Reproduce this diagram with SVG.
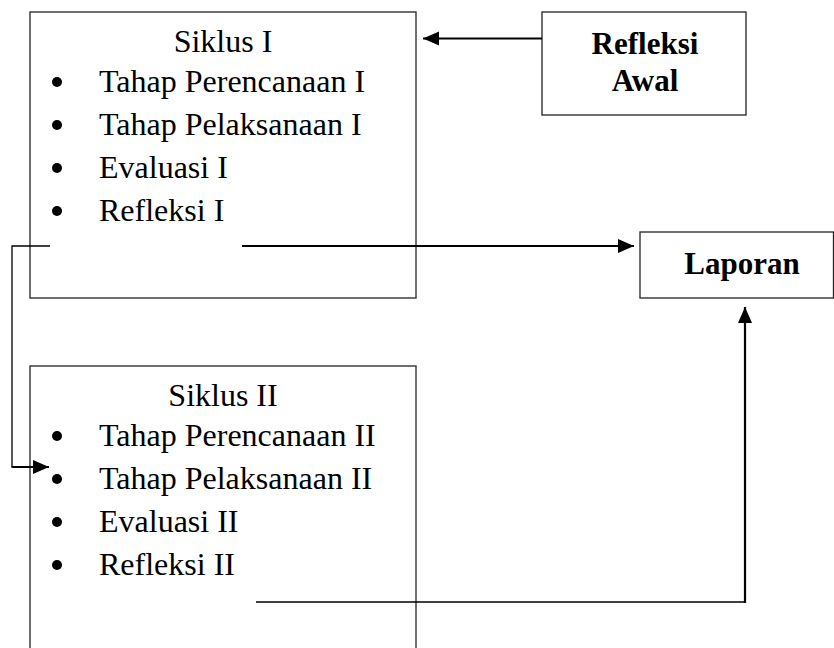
<svg xmlns="http://www.w3.org/2000/svg" width="834" height="648" viewBox="0 0 834 648">
<style>
.box{fill:#fff;stroke:#222;stroke-width:1.3}
.t{font-family:"Liberation Serif","Times New Roman",serif;font-size:32px;fill:#000}
.b{font-family:"Liberation Serif","Times New Roman",serif;font-size:31px;font-weight:bold;fill:#000}
.c{text-anchor:middle}
.bul{fill:#000}
.ln{fill:none;stroke:#000}
</style>
<defs>
<marker id="ah" markerUnits="userSpaceOnUse" markerWidth="18" markerHeight="16" refX="16" refY="7.5" orient="auto">
<path d="M0,0.5 L16,7.5 L0,14.5 Z" fill="#000"/>
</marker>
</defs>
<rect width="834" height="648" fill="#fff"/>
<g id="siklus1">
<rect class="box" x="30" y="12" width="386" height="286"/>
<text class="t c" x="223" y="52">Siklus I</text>
<circle class="bul" cx="57" cy="82" r="5"/>
<text class="t" x="99" y="92">Tahap Perencanaan I</text>
<circle class="bul" cx="57" cy="125" r="5"/>
<text class="t" x="99" y="135">Tahap Pelaksanaan I</text>
<circle class="bul" cx="57" cy="168" r="5"/>
<text class="t" x="99" y="178">Evaluasi I</text>
<circle class="bul" cx="57" cy="211" r="5"/>
<text class="t" x="99" y="221">Refleksi I</text>
</g>
<g id="siklus2">
<rect class="box" x="30" y="366" width="386" height="300"/>
<text class="t c" x="223" y="406">Siklus II</text>
<circle class="bul" cx="57" cy="436" r="5"/>
<text class="t" x="99" y="446">Tahap Perencanaan II</text>
<circle class="bul" cx="57" cy="479" r="5"/>
<text class="t" x="99" y="489">Tahap Pelaksanaan II</text>
<circle class="bul" cx="57" cy="522" r="5"/>
<text class="t" x="99" y="532">Evaluasi II</text>
<circle class="bul" cx="57" cy="565" r="5"/>
<text class="t" x="99" y="575">Refleksi II</text>
</g>
<g id="refleksi-awal">
<rect class="box" x="542" y="12" width="204" height="103"/>
<text class="b c" x="645" y="54">Refleksi</text>
<text class="b c" x="645" y="91">Awal</text>
</g>
<g id="laporan">
<rect class="box" x="640" y="232" width="193.5" height="66"/>
<text class="b c" x="742" y="274">Laporan</text>
</g>
<g id="connectors">
<line class="ln" x1="542" y1="38.5" x2="423" y2="38.5" stroke-width="2.2" marker-end="url(#ah)"/>
<line class="ln" x1="242" y1="246" x2="634" y2="246" stroke-width="2.2" marker-end="url(#ah)"/>
<polyline class="ln" points="50,246 12,246 12,467" stroke-width="1.3"/>
<line class="ln" x1="11.5" y1="467" x2="49" y2="467" stroke-width="2" marker-end="url(#ah)"/>
<polyline class="ln" points="256,602 745,602 745,460" stroke-width="1.6"/>
<line class="ln" x1="745" y1="603" x2="745" y2="307" stroke-width="2.2" marker-end="url(#ah)"/>
</g>
</svg>
